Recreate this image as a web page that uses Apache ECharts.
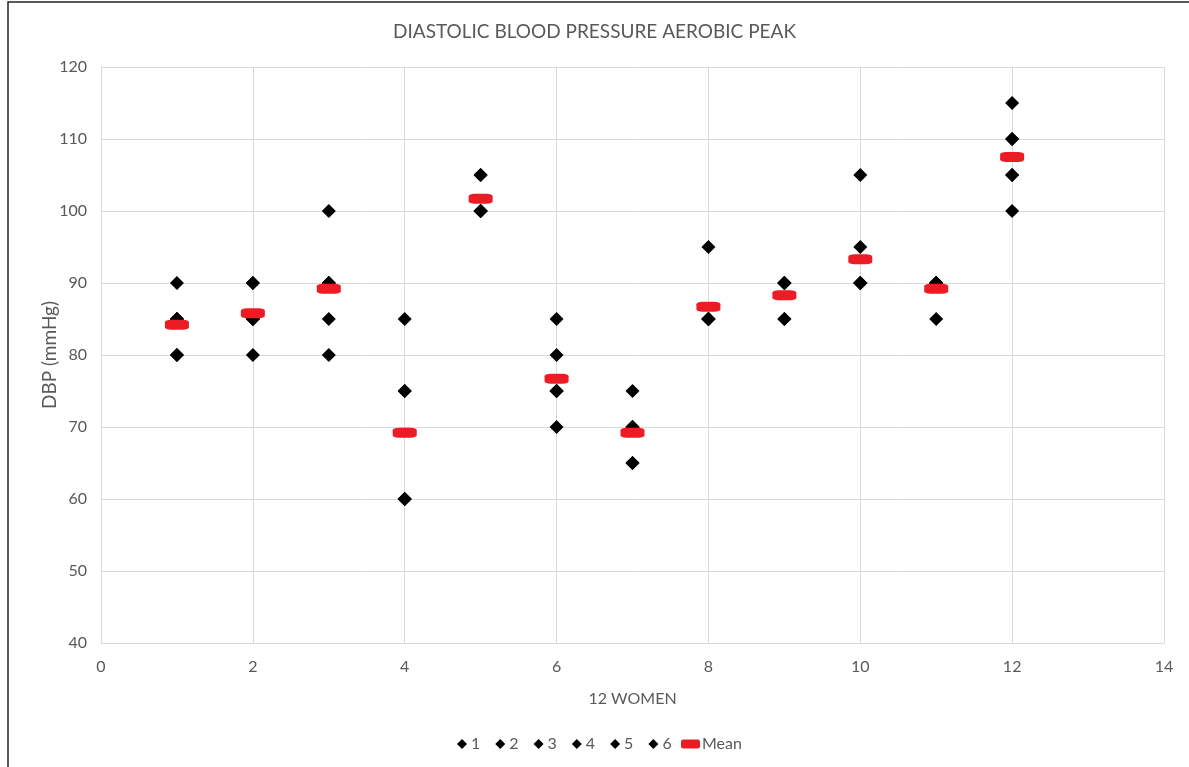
<!DOCTYPE html>
<html>
<head>
<meta charset="utf-8">
<script src="https://cdn.jsdelivr.net/npm/echarts@6/dist/echarts.min.js"></script>
<style>
  html, body { margin: 0; padding: 0; background: #fff; }
  #chart { width: 1189px; height: 767px; }
</style>
</head>
<body>
<div id="chart"></div>
<script>
// Women 1..12 on the x axis
const women = [1, 2, 3, 4, 5, 6, 7, 8, 9, 10, 11, 12];

// Diastolic blood pressure (mmHg) at aerobic peak, one array per measurement
const m1 = [90, 90, 100, 85, 105, 85, 75, 95, 90, 105, 90, 115];
const m2 = [85, 90, 90, 75, 105, 80, 70, 85, 90, 95, 90, 110];
const m3 = [85, 85, 90, 75, 100, 75, 70, 85, 90, 90, 90, 105];
const m4 = [85, 85, 90, 60, 100, 70, 70, 85, 90, 90, 90, 100];
const m5 = [80, 85, 85, 60, 100, 75, 65, 85, 85, 90, 90, 110];
const m6 = [80, 80, 80, 60, 100, 75, 65, 85, 85, 90, 85, 105];
const measureNames = ['1', '2', '3', '4', '5', '6'];
const measures = [m1, m2, m3, m4, m5, m6];

// Mean of the six measurements per woman
const means = [84.2, 85.8, 89.2, 69.2, 101.7, 76.7, 69.2, 86.7, 88.3, 93.3, 89.2, 107.5];

const xTicks = { min: 0, max: 14, interval: 2 };
const yTicks = { min: 40, max: 120, interval: 10 };

const textColor = '#595959';
const gridColor = '#d9d9d9';
const fontFamily = 'Lato, "Open Sans", sans-serif';

const chart = echarts.init(document.getElementById('chart'), null, { renderer: 'canvas' });

const pointSeries = measures.map((vals, i) => ({
  name: measureNames[i],
  type: 'scatter',
  symbol: 'diamond',
  symbolSize: 14,
  itemStyle: { color: '#000', opacity: 1 },
  z: 2,
  data: women.map((w, k) => [w, vals[k]])
}));

const meanSeries = {
  name: 'Mean',
  type: 'scatter',
  symbol: 'roundRect',
  symbolSize: [24, 10],
  itemStyle: { color: '#ec1c24', opacity: 1 },
  z: 3,
  data: women.map((w, k) => [w, means[k]])
};

const legendText = { color: textColor, fontSize: 16, fontFamily: fontFamily };

chart.setOption({
  backgroundColor: '#fff',
  animation: false,
  textStyle: { fontFamily: fontFamily },
  title: {
    text: 'DIASTOLIC BLOOD PRESSURE AEROBIC PEAK',
    left: 'center',
    top: 17,
    textStyle: { color: textColor, fontSize: 19, fontWeight: 'normal', fontFamily: fontFamily }
  },
  graphic: [{
    type: 'rect',
    shape: { x: 8, y: 2, width: 1200, height: 800 },
    style: { fill: 'none', stroke: '#222', lineWidth: 1.5 },
    silent: true
  }],
  legend: [{
    left: 457,
    top: 736,
    padding: 0,
    itemWidth: 10,
    itemHeight: 10,
    itemGap: 15,
    textStyle: Object.assign({ padding: [0, 0, 0, -1] }, legendText),
    data: measureNames.map(n => ({ name: n, icon: 'diamond' }))
  }, {
    left: 681,
    top: 736,
    padding: 0,
    itemWidth: 19,
    itemHeight: 9,
    textStyle: Object.assign({ padding: [0, 0, 0, -3] }, legendText),
    data: [{ name: 'Mean', icon: 'roundRect' }]
  }],
  grid: { left: 101, right: 25, top: 67, bottom: 124, containLabel: false },
  xAxis: {
    type: 'value',
    min: xTicks.min, max: xTicks.max, interval: xTicks.interval,
    name: '12 WOMEN',
    nameLocation: 'middle',
    nameGap: 48,
    nameMoveOverlap: false,
    nameTextStyle: { color: textColor, fontSize: 16, fontFamily: fontFamily },
    axisLine: { show: true, lineStyle: { color: gridColor } },
    axisTick: { show: false },
    axisLabel: { color: textColor, fontSize: 16, margin: 16, fontFamily: fontFamily },
    splitLine: { show: true, lineStyle: { color: gridColor, width: 1 } }
  },
  yAxis: {
    type: 'value',
    min: yTicks.min, max: yTicks.max, interval: yTicks.interval,
    name: 'DBP (mmHg)',
    nameLocation: 'middle',
    nameRotate: 90,
    nameGap: 42,
    nameMoveOverlap: false,
    nameTextStyle: { color: textColor, fontSize: 19, fontFamily: fontFamily },
    axisLine: { show: true, lineStyle: { color: gridColor } },
    axisTick: { show: false },
    axisLabel: { color: textColor, fontSize: 16, margin: 14, fontFamily: fontFamily },
    splitLine: { show: true, lineStyle: { color: gridColor, width: 1 } }
  },
  series: pointSeries.concat([meanSeries])
});
</script>
</body>
</html>
